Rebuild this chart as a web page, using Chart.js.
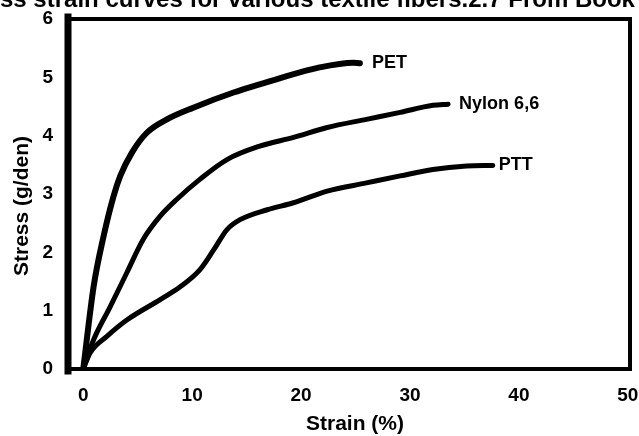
<!DOCTYPE html>
<html>
<head>
<meta charset="utf-8">
<script src="https://cdn.jsdelivr.net/npm/chart.js@4/dist/chart.umd.min.js"></script>
<style>
html,body{margin:0;padding:0;background:#fff;}
#wrap{width:639px;height:436px;position:relative;}
</style>
</head>
<body>
<div id="wrap"><canvas id="c" width="639" height="436"></canvas></div>
<script>
const headerText = "Stress strain curves for various textile fibers.2.7 From Book";
const xTitle = "Strain (%)";
const yTitle = "Stress (g/den)";
const xTicks = [0, 10, 20, 30, 40, 50];
const yTicks = [0, 1, 2, 3, 4, 5, 6];

const seriesNames = ["PET", "Nylon 6,6", "PTT"];

const petStrain = [0, 0.95, 1.86, 2.78, 3.4, 4.47, 5.84, 7.68, 10.1, 13.8, 17.8, 21.7, 24.8, 25.4];
const petStress = [0, 1.41, 2.27, 2.96, 3.31, 3.71, 4.05, 4.28, 4.48, 4.74, 4.97, 5.17, 5.25, 5.24];

const nylonStrain = [0, 0.95, 2.48, 4.0, 5.5, 7.06, 8.6, 10.7, 13.2, 16.2, 19.3, 22.4, 26.0, 29.1, 32.1, 33.5];
const nylonStress = [0, 0.5, 1.07, 1.65, 2.22, 2.62, 2.91, 3.25, 3.59, 3.82, 3.97, 4.14, 4.28, 4.40, 4.52, 4.54];

const pttStrain = [0, 0.64, 2.17, 4.0, 7.06, 8.9, 10.7, 12.0, 13.2, 14.4, 16.9, 19.3, 22.4, 26.0, 29.1, 32.1, 35.2, 37.6];
const pttStress = [0, 0.28, 0.56, 0.84, 1.19, 1.41, 1.70, 2.05, 2.39, 2.56, 2.73, 2.85, 3.05, 3.19, 3.31, 3.42, 3.48, 3.49];

function pts(xs, ys) { return xs.map((x, i) => ({x: x, y: ys[i]})); }

const FONT = "'Liberation Sans', Arial, sans-serif";

const decor = {
  id: 'decor',
  afterDatasetsDraw(chart) {
    const ctx = chart.ctx;
    const a = chart.chartArea;
    ctx.save();
    // frame
    ctx.strokeStyle = '#000';
    ctx.lineCap = 'square';
    ctx.lineWidth = 4;
    ctx.beginPath(); ctx.moveTo(a.left, a.top); ctx.lineTo(a.right, a.top); ctx.stroke();
    ctx.beginPath(); ctx.moveTo(a.right, a.top); ctx.lineTo(a.right, a.bottom); ctx.stroke();
    ctx.beginPath(); ctx.moveTo(a.left, a.bottom); ctx.lineTo(a.right, a.bottom); ctx.stroke();
    ctx.lineWidth = 7;
    ctx.beginPath(); ctx.moveTo(a.left, a.top - 2); ctx.lineTo(a.left, a.bottom + 2); ctx.stroke();

    // series end labels
    ctx.fillStyle = '#000';
    ctx.font = "bold 18px " + FONT;
    ctx.textBaseline = 'middle';
    ctx.textAlign = 'left';
    const offs = [12, 11, 6];
    chart.data.datasets.forEach((ds, i) => {
      const meta = chart.getDatasetMeta(i);
      const last = meta.data[meta.data.length - 1];
      ctx.fillText(ds.label, last.x + offs[i], last.y);
    });

    // axis titles
    ctx.font = "bold 21px " + FONT;
    ctx.textAlign = 'center';
    ctx.fillText(xTitle, 355, 424);
    ctx.save();
    ctx.translate(22, 206);
    ctx.rotate(-Math.PI / 2);
    ctx.fillText(yTitle, 0, 0);
    ctx.restore();

    // clipped header line
    ctx.font = "bold 24px " + FONT;
    ctx.textAlign = 'left';
    ctx.textBaseline = 'alphabetic';
    const skip = ctx.measureText("Stre").width;
    ctx.fillText(headerText, -skip, 7);
    ctx.restore();
  }
};

new Chart(document.getElementById('c'), {
  type: 'line',
  data: {
    datasets: [
      {label: seriesNames[0], data: pts(petStrain, petStress), borderWidth: 6},
      {label: seriesNames[1], data: pts(nylonStrain, nylonStress), borderWidth: 5},
      {label: seriesNames[2], data: pts(pttStrain, pttStress), borderWidth: 5}
    ].map(d => Object.assign(d, {
      borderColor: '#000', backgroundColor: '#000', pointRadius: 0,
      cubicInterpolationMode: 'monotone', borderCapStyle: 'round', borderJoinStyle: 'round', fill: false
    }))
  },
  options: {
    responsive: false,
    animation: false,
    devicePixelRatio: 1,
    layout: {padding: {left: 0, right: 9, top: 19, bottom: 0}},
    plugins: {legend: {display: false}, tooltip: {enabled: false}, title: {display: false}},
    scales: {
      x: {
        type: 'linear', min: -1.4, max: 50.2,
        grid: {display: false, drawTicks: false},
        border: {display: false},
        afterBuildTicks: s => { s.ticks = xTicks.map(v => ({value: v})); },
        afterFit: s => { s.height = 67; s.paddingLeft = 0; s.paddingRight = 0; },
        ticks: {color: '#000', font: {family: FONT, size: 19, weight: 'bold'}, padding: 15, maxRotation: 0, autoSkip: false}
      },
      y: {
        type: 'linear', min: 0, max: 6,
        grid: {display: false, drawTicks: false},
        border: {display: false},
        afterBuildTicks: s => { s.ticks = yTicks.map(v => ({value: v})); },
        afterFit: s => { s.width = 68; s.paddingTop = 0; s.paddingBottom = 0; },
        ticks: {color: '#000', font: {family: FONT, size: 19, weight: 'bold'}, padding: 15, autoSkip: false}
      }
    }
  },
  plugins: [decor]
});
</script>
</body>
</html>
